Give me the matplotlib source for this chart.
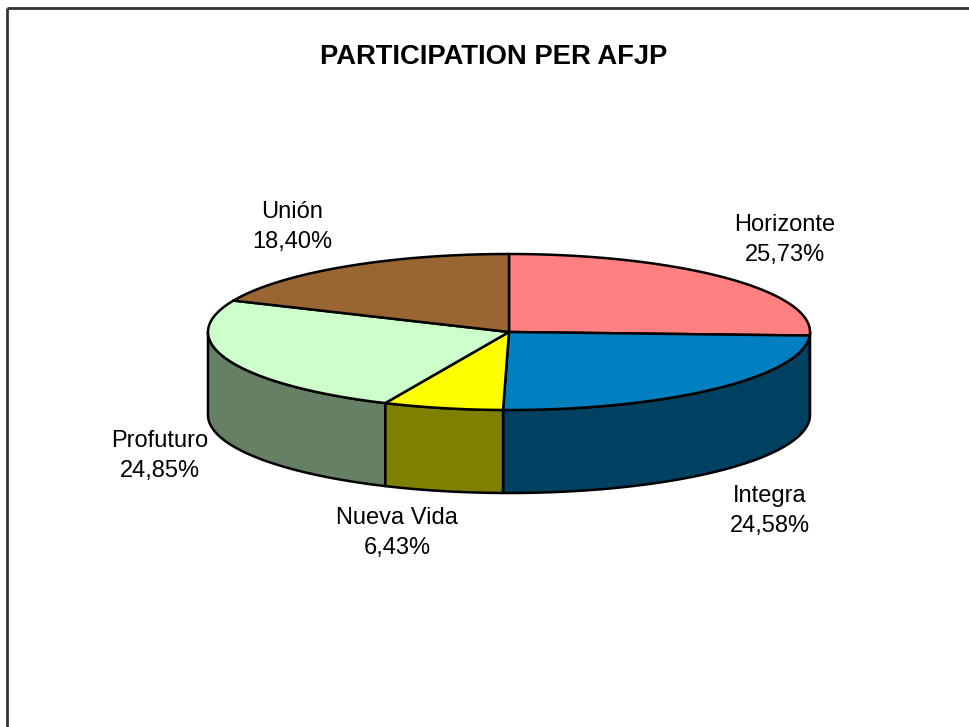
import numpy as np
import matplotlib.pyplot as plt

plt.rcParams['font.family'] = ['Liberation Sans', 'DejaVu Sans']

# data (clockwise from 12 o'clock)
names = ["Horizonte", "Integra", "Nueva Vida", "Profuturo", "Unión"]
shares = [25.73, 24.58, 6.43, 24.85, 18.40]
top_colors = ["#FF8080", "#0080C0", "#FFFF00", "#CCFFCC", "#996633"]
side_colors = ["#804040", "#004060", "#808000", "#668066", "#4D3319"]

# label centres in pixel coords
label_pos = [(785, 240), (770, 511), (397, 533), (160, 456), (292, 227)]

# pie geometry, in pixels (y down)
cx, cy = 509, 332
rx, ry = 301, 78
depth = 83


def ell(t):
    t = np.radians(t)
    return cx + rx * np.sin(t), cy - ry * np.cos(t)


fig = plt.figure(figsize=(9.69, 7.27), dpi=100)
ax = fig.add_axes([0, 0, 1, 1])
ax.set_xlim(0, 969)
ax.set_ylim(727, 0)
ax.axis("off")

# frame (only top and left visible)
ax.plot([7.5, 969], [8, 8], color="#333333", lw=2, solid_capstyle="butt")
ax.plot([7.5, 7.5], [8, 727], color="#333333", lw=2, solid_capstyle="butt")

ax.text(494, 57, "PARTICIPATION PER AFJP", ha="center", va="center",
        fontsize=19.7, fontweight="bold")

edges = np.concatenate([[0], np.cumsum(shares)]) / sum(shares) * 360

# side walls (front half only)
for i in range(len(shares)):
    a = max(edges[i], 90)
    b = min(edges[i + 1], 270)
    if a >= b:
        continue
    ts = np.linspace(a, b, 120)
    x, y = ell(ts)
    px = np.concatenate([x, x[::-1]])
    py = np.concatenate([y, y[::-1] + depth])
    ax.fill(px, py, facecolor=side_colors[i], edgecolor="black", lw=1.8,
            joinstyle="round")

# top faces
for i in range(len(shares)):
    ts = np.linspace(edges[i], edges[i + 1], 200)
    x, y = ell(ts)
    px = np.concatenate([[cx], x, [cx]])
    py = np.concatenate([[cy], y, [cy]])
    ax.fill(px, py, facecolor=top_colors[i], edgecolor="black", lw=1.8,
            joinstyle="round")

for name, v, (lx, ly) in zip(names, shares, label_pos):
    label = name + "\n" + f"{v:.2f}".replace(".", ",") + "%"
    ax.text(lx, ly, label, ha="center", va="center", fontsize=17,
            linespacing=1.45)

fig.savefig("out.png", dpi=100)
